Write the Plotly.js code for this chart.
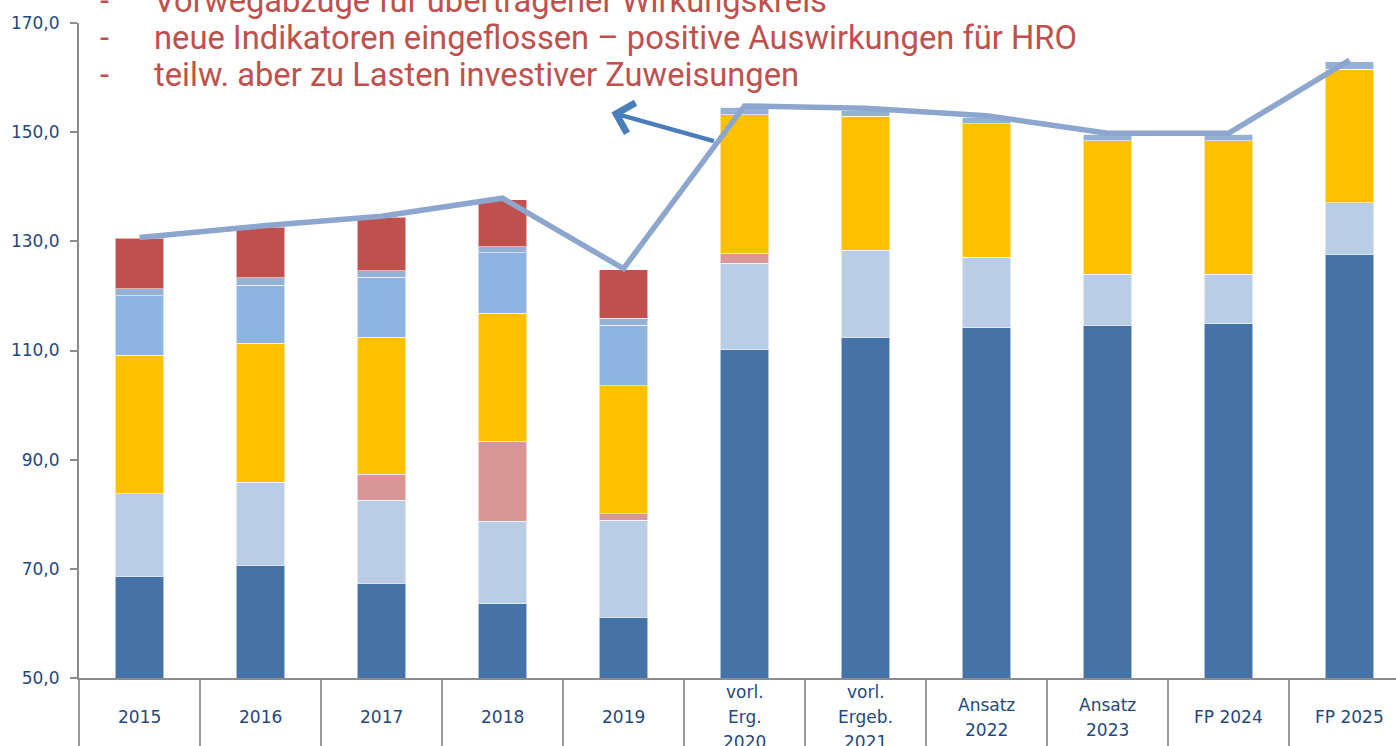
<!DOCTYPE html>
<html>
<head>
<meta charset="utf-8">
<script src="https://cdn.plot.ly/plotly-3.0.1.min.js"></script>
<style>
html, body { margin: 0; padding: 0; overflow: hidden; background: #fff; }
#chart { width: 1415px; height: 746px; }
</style>
</head>
<body>
<div id="chart"></div>
<script>
// Categories (x tick labels)
const categories = ["2015", "2016", "2017", "2018", "2019", "vorl.<br>Erg.<br>2020", "vorl.<br>Ergeb.<br>2021", "Ansatz<br>2022", "Ansatz<br>2023", "FP 2024", "FP 2025"];

// Stacked series (segment heights, bottom to top)
const serieDunkelblau = [68.6, 70.7, 67.4, 63.6, 61.1, 110.1, 112.4, 114.2, 114.6, 114.9, 127.6];
const serieHellblau   = [15.2, 15.2, 15.2, 15.1, 17.8, 15.9, 16.0, 12.9, 9.4, 9.1, 9.5];
const serieRosa       = [0, 0, 4.7, 14.7, 1.2, 1.8, 0, 0, 0, 0, 0];
const serieGelb       = [25.3, 25.4, 25.1, 23.4, 23.4, 25.4, 24.5, 24.4, 24.4, 24.4, 24.4];
const serieMittelblau = [10.9, 10.7, 11.0, 11.1, 11.1, 0, 0, 0, 0, 0, 0];
const serieGraublau   = [1.3, 1.3, 1.2, 1.1, 1.3, 1.4, 1.0, 1.2, 1.2, 1.2, 1.4];
const serieRot        = [9.3, 9.3, 9.8, 8.6, 8.9, 0, 0, 0, 0, 0, 0];

// Total line
const gesamt = [130.7, 132.8, 134.6, 137.9, 125.0, 154.8, 154.4, 153.0, 149.8, 149.8, 163.2];

// Y axis ticks
const yTickVals = [50, 70, 90, 110, 130, 150, 170];
const yTickText = ["50,0", "70,0", "90,0", "110,0", "130,0", "150,0", "170,0"];

// Text notes
const notizen = [
  "Vorwegabzüge für übertragener Wirkungskreis",
  "neue Indikatoren eingeflossen – positive Auswirkungen für HRO",
  "teilw. aber zu Lasten investiver Zuweisungen"
];

const W = 1415, H = 746;
const M = { l: 79, r: 5, t: 23, b: 68 };
const plotH = H - M.t - M.b;
function pyToPaper(py) { return (H - M.b - py) / plotH; }
function pxToPaper(px) { return (px - M.l) / (W - M.l - M.r); }

const idx = categories.map((c, i) => i);

const segDefs = [
  [serieDunkelblau, "#4573A7"],
  [serieHellblau, "#B9CDE5"],
  [serieRosa, "#D99694"],
  [serieGelb, "#FFC000"],
  [serieMittelblau, "#8EB4E2"],
  [serieGraublau, "#95B1D6"],
  [serieRot, "#C0504D"]
];

const traces = segDefs.map(([vals, col]) => ({
  type: "bar",
  x: idx,
  y: vals,
  marker: { color: col, line: { color: "rgba(255,255,255,0.55)", width: 1 } },
  hoverinfo: "skip",
  showlegend: false
}));

traces.push({
  type: "scatter",
  mode: "lines",
  x: idx,
  y: gesamt,
  line: { color: "#8DA6CE", width: 5.5 },
  hoverinfo: "skip",
  showlegend: false
});

const annotations = [];
const textCenters = [1, 38, 75];
const noteFont = { family: "Roboto, 'Noto Sans', sans-serif", size: 32.7, color: "#C0504D" };
notizen.forEach((t, i) => {
  annotations.push({
    xref: "paper", yref: "paper",
    x: pxToPaper(104), y: pyToPaper(textCenters[i]),
    xanchor: "center", yanchor: "middle",
    text: "-", showarrow: false, font: noteFont
  });
  annotations.push({
    xref: "paper", yref: "paper",
    x: pxToPaper(152), y: pyToPaper(textCenters[i]),
    xanchor: "left", yanchor: "middle",
    text: t, showarrow: false, font: noteFont
  });
});

// Category labels, one annotation per line for Excel-like spacing
categories.forEach((c, i) => {
  const lines = c.split("<br>");
  const n = lines.length;
  lines.forEach((ln, k) => {
    const py = 717 + (k - (n - 1) / 2) * 25;
    annotations.push({
      xref: "x", yref: "paper",
      x: i, y: pyToPaper(py),
      xanchor: "center", yanchor: "middle",
      text: ln, showarrow: false,
      font: { family: "'DejaVu Sans', Verdana, sans-serif", size: 17, color: "#1F497D" }
    });
  });
});

// Arrow
annotations.push({
  xref: "x", yref: "y", x: 3.9, y: 153.6,
  ax: 104, ay: 29, text: "", showarrow: true,
  arrowhead: 4, arrowsize: 1.35, arrowwidth: 4.5, arrowcolor: "#4A7EBB", standoff: 0
});

const layout = {
  width: W, height: H,
  margin: M,
  paper_bgcolor: "#ffffff",
  plot_bgcolor: "#ffffff",
  barmode: "stack",
  bargap: 0.6,
  showlegend: false,
  xaxis: {
    type: "linear",
    range: [-0.5, categories.length - 0.5],
    tickvals: idx.map(i => i - 0.5).concat([categories.length - 0.5]),
    ticktext: idx.map(() => "").concat([""]),
    showticklabels: false,
    ticks: "outside",
    ticklen: 75,
    tickwidth: 1.5,
    tickcolor: "#9A9A9A",
    showline: true,
    linecolor: "#8C8C8C",
    linewidth: 2,
    showgrid: false,
    zeroline: false,
    fixedrange: true,
    automargin: false
  },
  yaxis: {
    range: [50, 170],
    tickvals: yTickVals,
    ticktext: yTickText,
    ticks: "outside",
    ticklen: 7,
    tickwidth: 2,
    tickcolor: "#8C8C8C",
    ticklabelstandoff: 7,
    showline: true,
    linecolor: "#8C8C8C",
    linewidth: 2,
    showgrid: false,
    zeroline: false,
    tickfont: { family: "'DejaVu Sans', Verdana, sans-serif", size: 17, color: "#1F497D" },
    fixedrange: true,
    automargin: false
  },
  annotations: annotations
};

Plotly.newPlot("chart", traces, layout, { staticPlot: true, displayModeBar: false });
</script>
</body>
</html>
